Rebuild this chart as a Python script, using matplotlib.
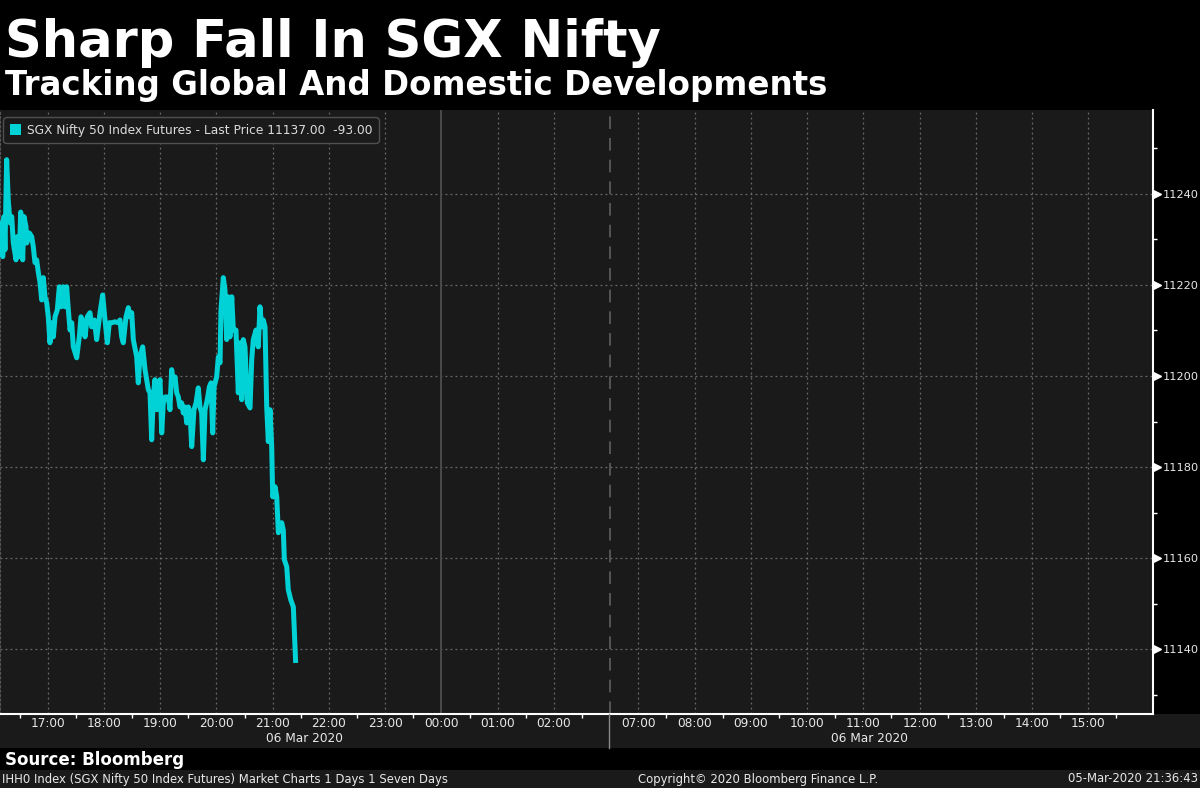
import matplotlib
matplotlib.use("Agg")
import matplotlib.pyplot as plt
import matplotlib.transforms as mtransforms
from matplotlib.patches import Patch, Rectangle
from matplotlib.lines import Line2D

# SGX Nifty 50 futures, last price; time as minutes after 16:00
mins = [9.1, 10.2, 12.0, 13.4, 14.4, 16.2, 17.9, 19.8, 21.6, 23.3,
        26.2, 27.6, 29.7, 31.2, 33.3, 34.7, 36.8, 37.6, 40.4, 42.9,
        44.6, 46.4, 48.2, 50.0, 51.8, 53.6, 55.3, 57.1, 58.9, 60.6,
        62.4, 64.2, 66.0, 67.8, 70.2, 72.4, 74.2, 76.6, 78.4, 80.2,
        82.0, 83.8, 85.6, 87.3, 90.9, 93.7, 95.5, 98.0, 99.8, 102.2,
        105.1, 106.9, 109.7, 112.2, 115.8,
        118.6, 121.1, 123.6, 125.7, 128.2, 131.8, 135.3, 137.1, 138.9, 140.6,
        143.5, 146.0, 147.8, 149.6, 151.3, 154.9, 156.6, 158.4, 161.3, 163.8,
        165.6, 167.3, 169.1, 170.9, 172.6, 174.4, 176.3, 178.0, 179.8, 181.6,
        183.3, 185.1, 188.6, 190.4, 192.2, 194.0, 195.8, 197.6, 199.3, 201.1,
        202.9, 204.6, 206.4, 208.3, 210.0, 211.8, 213.6, 216.0, 218.2, 220.6,
        222.4, 224.2, 226.0, 227.8, 230.2, 232.4, 234.2, 236.0, 237.4, 240.2,
        242.0, 243.8, 244.8, 247.3, 249.1, 250.9, 252.6, 254.4, 256.3, 258.0,
        260.8, 263.3, 265.1, 266.9, 268.6, 270.4, 272.9, 275.8, 277.6, 279.3,
        282.2, 284.6, 286.4, 288.2, 290.0, 291.8, 293.6, 295.3, 297.1, 298.9,
        300.0, 302.5, 304.3, 306.0, 309.6, 311.3, 312.4, 315.0, 316.6, 319.2,
        322.0, 324.5]

price = [11227.0, 11233.6, 11226.2, 11235.0, 11227.7, 11247.5, 11238.7, 11233.6, 11235.0, 11229.2,
         11225.5, 11230.6, 11226.2, 11236.0, 11225.5, 11235.0, 11232.8, 11229.2, 11231.4, 11230.6,
         11228.4, 11224.9, 11225.5, 11222.7, 11220.5, 11216.7, 11221.6, 11217.4, 11216.1, 11213.0,
         11207.3, 11211.7, 11208.6, 11213.0, 11214.5, 11219.6, 11215.2, 11219.6, 11215.2, 11219.6,
         11214.5, 11210.1, 11211.7, 11206.4, 11204.0, 11208.6, 11213.0, 11211.7, 11208.6, 11213.0,
         11213.9, 11210.8, 11212.3, 11208.0, 11213.9,
         11217.8, 11212.3, 11207.3, 11211.7, 11211.7, 11211.9, 11211.7, 11212.3, 11208.6, 11207.3,
         11213.0, 11215.0, 11213.0, 11213.9, 11208.0, 11204.2, 11198.5, 11204.2, 11206.4, 11201.4,
         11199.2, 11197.0, 11196.3, 11186.0, 11195.4, 11199.2, 11192.6, 11197.6, 11199.2, 11187.5,
         11194.1, 11195.4, 11195.4, 11192.6, 11201.4, 11198.5, 11199.8, 11196.3, 11195.4, 11193.2,
         11194.1, 11191.9, 11193.2, 11189.7, 11193.2, 11191.9, 11184.5, 11192.6, 11194.1, 11197.4,
         11193.2, 11191.9, 11181.6, 11192.6, 11194.8, 11197.6, 11198.5, 11187.5, 11197.6, 11199.8,
         11204.2, 11202.9, 11214.5, 11221.6, 11218.9, 11208.0, 11217.4, 11208.6, 11217.4, 11210.1,
         11210.1, 11196.3, 11207.3, 11194.8, 11208.0, 11206.4, 11194.1, 11193.0, 11203.6, 11208.0,
         11210.1, 11206.4, 11215.2, 11210.8, 11212.3, 11210.8, 11193.2, 11185.6, 11192.6, 11184.5,
         11173.5, 11175.7, 11173.5, 11165.6, 11167.8, 11166.2, 11159.7, 11158.1, 11153.1, 11150.9,
         11149.3, 11137.0]

left_hours = ['17:00', '18:00', '19:00', '20:00', '21:00', '22:00', '23:00', '00:00', '01:00', '02:00']
right_hours = ['07:00', '08:00', '09:00', '10:00', '11:00', '12:00', '13:00', '14:00', '15:00']
y_ticks = [11140, 11160, 11180, 11200, 11220, 11240]
date_label = '06 Mar 2020'
legend_label = 'SGX Nifty 50 Index Futures - Last Price 11137.00  -93.00'

BREAK = 660   # 03:00, overnight gap up to 06:30 is squeezed out
GAP = 210


def clock_pos(label):
    h, m = map(int, label.split(':'))
    t = ((h - 16) % 24) * 60 + m
    return t - GAP if t > BREAK else t


W, H = 1200, 788
fig = plt.figure(figsize=(W / 100, H / 100), dpi=100, facecolor='black')
fam = 'DejaVu Sans'
txt = '#e8e8e8'
bg = '#1a1a1a'
cyan = '#00d2d6'

# grey bands behind the x labels and the footer line
fig.patches.append(Rectangle((0, (H - 748) / H), 1, 34 / H, transform=fig.transFigure,
                             facecolor=bg, edgecolor='none', zorder=-2))
fig.patches.append(Rectangle((0, 0), 1, 18 / H, transform=fig.transFigure,
                             facecolor=bg, edgecolor='none', zorder=-2))

ax = fig.add_axes([0, (H - 714) / H, 1153 / W, 604 / H])
ax.set_facecolor(bg)
ax.set_xlim(9.1, 1239.0)
ax.set_ylim(11125.8, 11258.4)

# grid
for y in y_ticks:
    ax.axhline(y, color='#6a6a6a', lw=0.9, ls=(0, (1.5, 2.5)), zorder=1)
hour_pos = [clock_pos(h) for h in left_hours + right_hours]
for lab, p in zip(left_hours + right_hours, hour_pos):
    if lab == '00:00':
        ax.axvline(p, color='#4a4a4a', lw=1.4, zorder=1)
    else:
        ax.axvline(p, color='#6a6a6a', lw=0.9, ls=(0, (1.5, 2.5)), zorder=1)
ax.axvline(BREAK, color='#5a5a5a', lw=1.3, ls=(0, (7, 5)), zorder=1)

ax.plot(mins, price, color=cyan, lw=3.6, zorder=3, solid_joinstyle='round',
        solid_capstyle='butt')

# spines
ax.spines['top'].set_visible(False)
ax.spines['left'].set_color('#555555')
ax.spines['left'].set_linestyle((0, (2, 2)))
ax.spines['right'].set_color('white')
ax.spines['right'].set_linewidth(1.5)
ax.spines['bottom'].set_color('white')
ax.spines['bottom'].set_linewidth(1.5)

# y axis on the right with triangle markers
ax.yaxis.tick_right()
ax.set_yticks(y_ticks)
ax.set_yticklabels([str(v) for v in y_ticks], color=txt, fontsize=8.2, family=fam)
ax.set_yticks([v + 10 for v in [y_ticks[0] - 20] + y_ticks], minor=True)
ax.tick_params(axis='y', which='major', length=0, pad=7)
ax.tick_params(axis='y', which='minor', length=3, width=1, color='white')
tri_tr = mtransforms.blended_transform_factory(ax.transAxes, ax.transData) + \
    mtransforms.ScaledTranslation(3.5 / 100, 0, fig.dpi_scale_trans)
ax.plot([1] * len(y_ticks), y_ticks, ls='none', marker='>', ms=6, color='white',
        transform=tri_tr, clip_on=False, zorder=5)

# x axis
ax.set_xticks(hour_pos)
ax.set_xticklabels(left_hours + right_hours, color=txt, fontsize=8.7, family=fam)
half = [clock_pos(left_hours[0]) - 30] + [clock_pos(h) + 30 for h in left_hours + right_hours]
ax.set_xticks(half, minor=True)
ax.tick_params(axis='x', which='major', length=0, pad=2.5)
ax.tick_params(axis='x', which='minor', length=3, width=1, color='white')

fig.add_artist(Line2D([609 / W, 609 / W], [(H - 714) / H, (H - 748) / H], color='#8a8a8a', lw=1.0,
                      transform=fig.transFigure))
fig.text(304 / W, (H - 739) / H, date_label, color=txt, fontsize=8.7, family=fam,
         ha='center', va='center')
fig.text(869 / W, (H - 739) / H, date_label, color=txt, fontsize=8.7, family=fam,
         ha='center', va='center')

# legend
leg = ax.legend([Patch(facecolor=cyan, edgecolor='none')], [legend_label],
                loc='upper left', bbox_to_anchor=(3 / 1153, 1 - 7 / 604), borderaxespad=0,
                frameon=True, facecolor=bg, edgecolor='#505050', framealpha=1,
                prop={'family': fam, 'size': 8.8}, labelcolor='#dcdcdc',
                handlelength=0.95, handleheight=0.95, handletextpad=0.45, borderpad=0.55)
leg.get_frame().set_boxstyle('round,pad=0.0,rounding_size=0.3')

# titles, fitted to the measured widths
renderer = fig.canvas.get_renderer()


def fit_text(x, y, s, width_px, size, **kw):
    t = fig.text(x / W, (H - y) / H, s, fontsize=size, va='baseline', **kw)
    w = t.get_window_extent(renderer).width
    t.set_fontsize(size * width_px / w)
    return t


fit_text(5, 57, 'Sharp Fall In SGX Nifty', 655, 38, color='white', weight='bold', family=fam)
fit_text(5, 95, 'Tracking Global And Domestic Developments', 823, 26, color='white',
         weight='bold', family=fam)

fig.text(5 / W, (H - 760) / H, 'Source: Bloomberg', color='white', weight='bold',
         fontsize=12, family=fam, va='center')
fig.text(2 / W, (H - 779) / H,
         'IHH0 Index (SGX Nifty 50 Index Futures) Market Charts 1 Days 1 Seven Days',
         color=txt, fontsize=8.4, family=fam, va='center')
fig.text(758 / W, (H - 779) / H, 'Copyright\u00a9 2020 Bloomberg Finance L.P.', color=txt,
         fontsize=8.4, family=fam, ha='center', va='center')
fig.text(1198 / W, (H - 779) / H, '05-Mar-2020 21:36:43', color=txt, fontsize=8.4,
         family=fam, ha='right', va='center')

fig.savefig('out.png', dpi=100, facecolor='black')
